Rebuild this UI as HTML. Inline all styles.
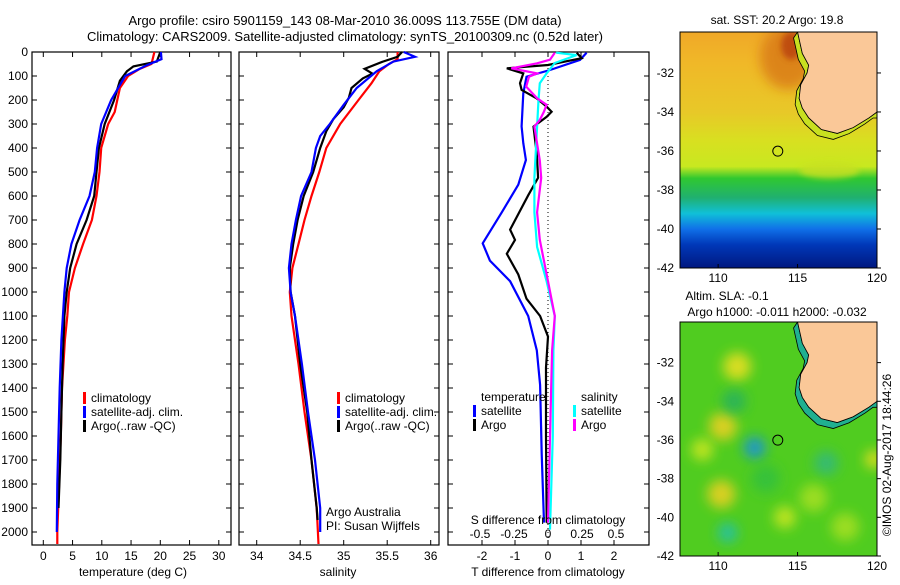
<!DOCTYPE html>
<html><head><meta charset="utf-8">
<style>
body{margin:0;background:#fff;}
svg text{font-family:"Liberation Sans",sans-serif;font-size:12px;fill:#000;}
</style></head>
<body>
<svg id="fig" width="900" height="580" viewBox="0 0 900 580" xmlns="http://www.w3.org/2000/svg">
<defs>
<filter id="blur6" x="-50%" y="-50%" width="200%" height="200%"><feGaussianBlur stdDeviation="6"/></filter>
<filter id="blur3" x="-50%" y="-50%" width="200%" height="200%"><feGaussianBlur stdDeviation="3"/></filter>
</defs>
<text x="345" y="25" text-anchor="middle" style="font-size:13px">Argo profile: csiro 5901159_143 08-Mar-2010 36.009S 113.755E (DM data)</text>
<text x="345" y="41" text-anchor="middle" style="font-size:13px">Climatology: CARS2009. Satellite-adjusted climatology: synTS_20100309.nc (0.52d later)</text>
<g id="p1"></g>
<g id="p2"></g>
<g id="p3"></g>
<g id="m1"></g>
<g id="m2"></g>
<text transform="translate(891,455) rotate(-90)" text-anchor="middle">©IMOS 02-Aug-2017 18:44:26</text>
</svg>
<script>
// ---- data ----
const depthTicks=[0,100,200,300,400,500,600,700,800,900,1000,1100,1200,1300,1400,1500,1600,1700,1800,1900,2000];
const tTicks=[0,5,10,15,20,25,30];
const sTicks=[34,34.5,35,35.5,36];
const dTTicks=[-2,-1,0,1,2];
const dSTicks=[-0.5,-0.25,0,0.25,0.5];
const dSTickLabels=["-0.5","-0.25","0","0.25","0.5"];
// temperature profiles
const tClimD=[0,50,70,100,150,250,300,400,500,600,700,800,900,1000,1100,1200,1400,1600,1800,2000,2050];
const tClimV=[19,18.5,16.5,14.5,13.1,12.2,11.1,9.9,9.6,9.1,8.3,6.8,5.4,4.4,4.1,3.7,3.2,3.0,2.7,2.4,2.4];
const tSatD=[0,30,55,100,200,300,400,500,600,700,800,900,1000,1200,1400,1600,1800,2000];
const tSatV=[20.1,20.2,17.7,14.0,11.6,9.9,9.2,8.8,7.9,6.2,4.8,4.0,3.6,3.1,2.8,2.6,2.4,2.3];
const tArgoD=[0,40,60,80,120,200,300,400,500,600,700,800,900,1000,1100,1300,1500,1700,1900];
const tArgoV=[20.0,19.4,15.4,14.3,13.1,12.1,10.5,9.5,9.1,8.7,7.4,5.7,4.6,4.0,3.6,3.3,3.1,2.9,2.6];
// salinity profiles
const sClimD=[0,30,50,80,130,200,300,400,500,600,700,800,900,1000,1100,1300,1500,1700,1900,2050];
const sClimV=[35.62,35.62,35.52,35.41,35.32,35.17,34.96,34.80,34.72,34.63,34.55,34.48,34.41,34.38,34.40,34.48,34.55,34.63,34.69,34.71];
const sSatD=[0,20,40,80,150,220,300,350,400,500,600,700,800,900,1000,1100,1300,1500,1700,1900,2000];
const sSatV=[35.69,35.82,35.57,35.38,35.15,35.0,34.84,34.73,34.68,34.63,34.51,34.45,34.40,34.37,34.39,34.44,34.52,34.59,34.67,34.73,34.73];
const sArgoD=[0,20,40,70,90,110,150,190,230,280,330,400,500,600,700,800,900,1000,1100,1300,1500,1700,1900,1950];
const sArgoV=[35.67,35.62,35.45,35.24,35.33,35.22,35.09,35.06,35.0,34.88,34.80,34.73,34.65,34.54,34.47,34.42,34.38,34.39,34.44,34.50,34.58,34.63,34.69,34.70];
// differences
const dTSatD=[3,33,75,103,172,310,380,450,553,668,797,869,955,1100,1243,1387,1674,1961];
const dTSatV=[1.17,0.97,0.06,-0.65,-0.75,-0.8,-0.75,-0.67,-0.9,-1.4,-1.98,-1.76,-1.15,-0.6,-0.34,-0.24,-0.19,-0.12];
const dTArgoD=[3,26,54,68,89,130,158,193,228,249,270,311,367,424,524,597,740,783,841,927,1028,1100,1186,1315,1600,1961];
const dTArgoV=[0.87,1.02,0,-1.25,-0.75,-0.85,-0.8,-0.35,-0.04,0.11,-0.04,-0.44,-0.39,-0.34,-0.3,-0.6,-1.15,-1.0,-1.25,-0.9,-0.65,-0.24,0,-0.06,-0.06,-0.04];
const dSSatD=[3,13,46,89,130,200,311,524,668,812,955,1100,1243,1600,1990];
const dSSatV=[0.06,0.21,0.05,-0.01,-0.06,-0.07,-0.08,-0.1,-0.1,-0.08,-0.01,0.05,0.04,0.035,0.015];
const dSArgoD=[3,32,47,68,89,103,144,193,220,249,283,311,452,524,668,783,955,1100,1243,1600,1961];
const dSArgoV=[0.05,0.015,-0.08,-0.27,-0.08,-0.14,-0.16,-0.08,-0.01,-0.03,-0.06,-0.1,-0.06,-0.05,-0.08,-0.06,0,0.05,0.03,0.015,0];
// maps
const lonTicks=[110,115,120];
const latTicks=[-32,-34,-36,-38,-40,-42];
const argoLon=113.755, argoLat=-36.009;
const coastLon=[115.0,115.3,115.7,115.6,115.2,115.1,115.3,115.7,116.5,117.5,118.5,119.5,120.0];
const coastLat=[-29.9,-31.0,-31.6,-32.0,-32.6,-33.3,-33.8,-34.3,-34.9,-35.1,-34.8,-34.3,-34.0];
const sstBandLat=[-29.9,-31.5,-34.0,-35.5,-36.8,-37.4,-38.4,-39.2,-40.0,-40.8,-42];
const sstBandCol=["#f0a828","#f0b828","#e8c828","#d8e020","#c8e820","#30c830","#20b070","#10c0d8","#1070e8","#0038b8","#001880"];
const slaBlobLon=[111.2,110.3,110.2,112.3,110.6,116.8,119.8,111.0,109.0,114.2,116.0,118.0,113.0];
const slaBlobLat=[-32.2,-35.3,-38.8,-36.4,-40.8,-37.2,-37.0,-34.0,-36.5,-40.0,-39.0,-40.5,-38.0];
const slaBlobCol=["#f0e020","#f0d020","#f0d020","#1890e0","#20c0b0","#30b880","#f0e020","#28b060","#d0e820","#d0e820","#a8e020","#a8e020","#30c040"];
const slaBlobR=[14,14,14,11,10,12,9,12,11,11,14,14,14];

const NS="http://www.w3.org/2000/svg";
function el(tag,attrs,parent){const e=document.createElementNS(NS,tag);for(const k in attrs)e.setAttribute(k,attrs[k]);parent.appendChild(e);return e;}
const Y0=52, YS=0.24, YB=545;
const yD=d=>Y0+d*YS;

function frame(g,x0,x1,name){
  const r=el('rect',{x:x0,y:Y0,width:x1-x0,height:YB-Y0,fill:'none',stroke:'#000','stroke-width':1.2},g);
  
  
  depthTicks.forEach(d=>{
    el('line',{x1:x0,x2:x0+5,y1:yD(d),y2:yD(d),stroke:'#000'},g);
    el('line',{x1:x1,x2:x1-5,y1:yD(d),y2:yD(d),stroke:'#000'},g);
  });
}
function line(g,xs,ds,fx,col,name){
  let pts=[];
  for(let i=0;i<xs.length;i++)pts.push(fx(xs[i]).toFixed(1)+','+yD(ds[i]).toFixed(1));
  const p=el('polyline',{points:pts.join(' '),fill:'none',stroke:col,'stroke-width':2.2},g);
  
  
}
function txt(g,x,y,s,anchor,name){const t=el('text',{x:x,y:y,'text-anchor':anchor||'start'},g);t.textContent=s;
  
  
  return t;}
function legSwatch(g,x,y,col){el('rect',{x:x,y:y-10,width:3,height:12,fill:col},g);}

// Panel 1
const g1=document.getElementById('p1');
const fT=t=>43.3+t*5.85;
frame(g1,32,231,'temperature');
depthTicks.forEach(d=>{txt(g1,28,yD(d)+4,String(d),'end','depth-tick-label');});
tTicks.forEach(v=>{el('line',{x1:fT(v),x2:fT(v),y1:Y0,y2:Y0+5,stroke:'#000'},g1);el('line',{x1:fT(v),x2:fT(v),y1:YB,y2:YB-5,stroke:'#000'},g1);txt(g1,fT(v),560,String(v),'middle','temperature-tick-label');});
txt(g1,133,576,'temperature (deg C)','middle','temperature-axis-title');
line(g1,tClimV,tClimD,fT,'#ff0000','temp-climatology-line');
line(g1,tArgoV,tArgoD,fT,'#000000','temp-argo-line');
line(g1,tSatV,tSatD,fT,'#0000ff','temp-satellite-line');
[['climatology','#f00'],['satellite-adj. clim.','#00f'],['Argo(..raw -QC)','#000']].forEach((l,i)=>{legSwatch(g1,83,402+i*14,l[1]);txt(g1,91,402+i*14,l[0],'start','temp-legend-entry');});

// Panel 2
const g2=document.getElementById('p2');
const fS=s=>256.7+(s-34)*87;
frame(g2,239,439,'salinity');
sTicks.forEach(v=>{el('line',{x1:fS(v),x2:fS(v),y1:Y0,y2:Y0+5,stroke:'#000'},g2);el('line',{x1:fS(v),x2:fS(v),y1:YB,y2:YB-5,stroke:'#000'},g2);txt(g2,fS(v),560,String(v),'middle','salinity-tick-label');});
txt(g2,338,576,'salinity','middle','salinity-axis-title');
line(g2,sClimV,sClimD,fS,'#ff0000','sal-climatology-line');
line(g2,sArgoV,sArgoD,fS,'#000000','sal-argo-line');
line(g2,sSatV,sSatD,fS,'#0000ff','sal-satellite-line');
[['climatology','#f00'],['satellite-adj. clim.','#00f'],['Argo(..raw -QC)','#000']].forEach((l,i)=>{legSwatch(g2,337,402+i*14,l[1]);txt(g2,345,402+i*14,l[0],'start','sal-legend-entry');});
txt(g2,326,516,'Argo Australia','start','institution-label');
txt(g2,326,530,'PI: Susan Wijffels','start','pi-label');

// Panel 3
const g3=document.getElementById('p3');
const fDT=t=>548+t*33;
const fDS=s=>548+s*136;
frame(g3,448,649,'difference');
el('line',{x1:548,x2:548,y1:Y0,y2:YB,stroke:'#000','stroke-dasharray':'1,3'},g3);
dTTicks.forEach(v=>{el('line',{x1:fDT(v),x2:fDT(v),y1:Y0,y2:Y0+5,stroke:'#000'},g3);el('line',{x1:fDT(v),x2:fDT(v),y1:YB,y2:YB-5,stroke:'#000'},g3);txt(g3,fDT(v),560,String(v),'middle','t-diff-tick-label');});
txt(g3,548,576,'T difference from climatology','middle','t-diff-axis-title');
line(g3,dTSatV,dTSatD,fDT,'#0000ff','t-diff-satellite-line');
line(g3,dTArgoV,dTArgoD,fDT,'#000000','t-diff-argo-line');
line(g3,dSSatV,dSSatD,fDS,'#00ffff','s-diff-satellite-line');
line(g3,dSArgoV,dSArgoD,fDS,'#ff00ff','s-diff-argo-line');
dSTicks.forEach((v,i)=>txt(g3,fDS(v),538,dSTickLabels[i],'middle','s-diff-tick-label'));
txt(g3,548,524,'S difference from climatology','middle','s-diff-axis-title');
txt(g3,481,401,'temperature','start','legend-temperature-header');
txt(g3,581,401,'salinity','start','legend-salinity-header');
legSwatch(g3,473,415,'#00f');txt(g3,481,415,'satellite','start','legend-t-satellite');
legSwatch(g3,473,429,'#000');txt(g3,481,429,'Argo','start','legend-t-argo');
legSwatch(g3,573,415,'#0ff');txt(g3,581,415,'satellite','start','legend-s-satellite');
legSwatch(g3,573,429,'#f0f');txt(g3,581,429,'Argo','start','legend-s-argo');

// Maps
function map(g,top,bottom,kind,id){
  const X0=680,X1=877;
  const fx=lon=>X0+(lon-107.6)*(X1-X0)/(120-107.6);
  const fy=lat=>top+(-29.9-lat)*(bottom-top)/12.1;
  const cp=el('clipPath',{id:id},g);el('rect',{x:X0,y:top,width:X1-X0,height:bottom-top},cp);
  const inner=el('g',{'clip-path':'url(#'+id+')'},g);
  if(kind==='sst'){
    const defs=el('defs',{},g);
    const lg=el('linearGradient',{id:id+'g',x1:0,y1:0,x2:0,y2:1},defs);
    sstBandLat.forEach((lat,i)=>{el('stop',{offset:((-29.9-lat)/12.1).toFixed(3),'stop-color':sstBandCol[i]},lg);});
    el('rect',{x:X0,y:top,width:X1-X0,height:bottom-top,fill:'url(#'+id+'g)'},inner);
    el('ellipse',{cx:fx(114.4),cy:fy(-31.2),rx:28,ry:32,fill:'#d87818',opacity:0.8,filter:'url(#blur6)'},inner);
    el('ellipse',{cx:fx(114.6),cy:fy(-30.6),rx:10,ry:14,fill:'#b84010',opacity:0.8,filter:'url(#blur3)'},inner);
    el('ellipse',{cx:fx(117),cy:fy(-37),rx:30,ry:8,fill:'#c8e020',opacity:0.8,filter:'url(#blur3)'},inner);
  } else {
    el('rect',{x:X0,y:top,width:X1-X0,height:bottom-top,fill:'#50cc20'},inner);
    slaBlobLon.forEach((lon,i)=>{el('circle',{cx:fx(lon),cy:fy(slaBlobLat[i]),r:slaBlobR[i],fill:slaBlobCol[i],opacity:0.85,filter:'url(#blur6)'},inner);});
  }
  const land=coastLon.map((lon,i)=>fx(lon)+','+fy(coastLat[i]));
  const shelfOut=coastLon.map((lon,i)=>(fx(lon)-4)+','+(fy(coastLat[i])+6));
  const back=land.slice().reverse();
  el('polygon',{points:shelfOut.join(' ')+' '+fx(120)+','+(fy(-34.0)+6)+' '+back.join(' '),fill:kind==='sst'?'#c8e020':'#20b090',stroke:'#000','stroke-width':0.8},inner);
  el('polygon',{points:land.join(' ')+' '+fx(120)+','+top,fill:'#fac898',stroke:'#000','stroke-width':0.8},inner);
  el('circle',{cx:fx(argoLon),cy:fy(argoLat),r:5,fill:'none',stroke:'#000'},g);
  el('rect',{x:X0,y:top,width:X1-X0,height:bottom-top,fill:'none',stroke:'#000'},g);
  lonTicks.forEach(v=>{el('line',{x1:fx(v),x2:fx(v),y1:bottom,y2:bottom-4,stroke:'#000'},g);txt(g,fx(v),bottom+14,String(v),'middle','map-lon-tick-label');});
  latTicks.forEach(v=>{el('line',{x1:X1,x2:X1+4,y1:fy(v),y2:fy(v),stroke:'#000'},g);txt(g,X0-6,fy(v)+4,String(v),'end','map-lat-tick-label');});
}
const gm1=document.getElementById('m1');
map(gm1,32,268,'sst','c1');
txt(gm1,777,24,'sat. SST: 20.2 Argo: 19.8','middle','sst-map-title');
const gm2=document.getElementById('m2');
map(gm2,322,556,'sla','c2');
txt(gm2,727,300,'Altim. SLA: -0.1','middle','sla-map-title');
txt(gm2,777,316,'Argo h1000: -0.011 h2000: -0.032','middle','sla-map-subtitle');
</script>
</body></html>
